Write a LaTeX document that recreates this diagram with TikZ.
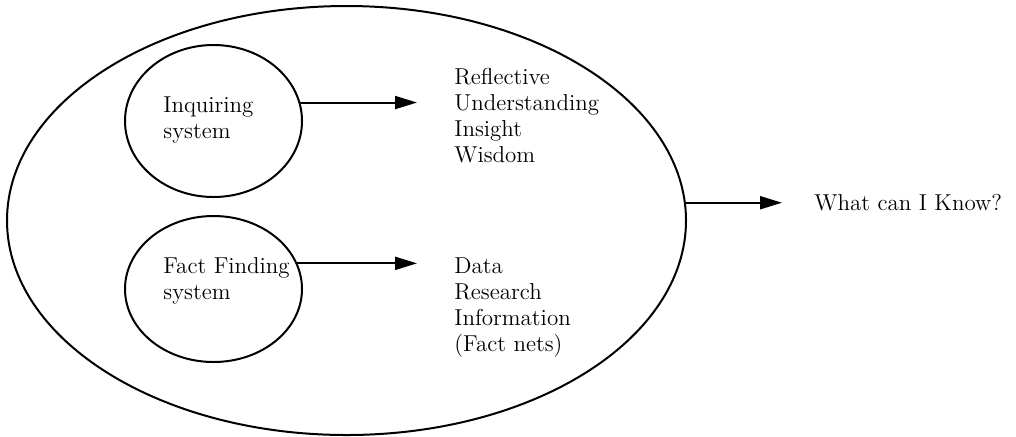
\documentclass[tikz,border=0pt]{standalone}
\usetikzlibrary{shapes.geometric,arrows.meta}
\tikzset{
  ring/.style={draw, ellipse, inner sep=0pt, line width=1pt},
  lbl/.style={anchor=base west, inner sep=0pt, font=\fontsize{11.5}{13}\selectfont},
  arr/.style={-{Triangle[length=11pt,width=6.5pt]}, line width=1pt}
}
\begin{document}
\begin{tikzpicture}[x=0.5pt,y=-0.5pt]
\useasboundingbox (0,0) rectangle (1016,436);
% outer ellipse and inner circles
\node[ring, minimum width=339.5pt, minimum height=214.5pt] (outer) at (346.5,220.5) {};
\node[ring, minimum width=88.5pt, minimum height=76pt] (c1) at (213.5,121) {};
\node[ring, minimum width=88.5pt, minimum height=73pt] (c2) at (213.5,289) {};
% texts
\node[lbl] (t1) at (163,112) {\begin{tabular}[t]{@{}l@{}}Inquiring\\system\end{tabular}};
\node[lbl] (t2) at (163,273) {\begin{tabular}[t]{@{}l@{}}Fact Finding\\system\end{tabular}};
\node[lbl] (r1) at (454,84) {\begin{tabular}[t]{@{}l@{}}Reflective\\Understanding\\Insight\\Wisdom\end{tabular}};
\node[lbl] (r2) at (454,273) {\begin{tabular}[t]{@{}l@{}}Data\\Research\\Information\\(Fact nets)\end{tabular}};
\node[lbl] (q) at (814,210) {What can I Know?};
% arrow ends
\coordinate (e1) at (417,0);
\coordinate (e3) at (782,0);
% connectors
\draw[arr] (c1.12) -- (c1.12 -| e1);
\draw[arr] (c2.17.5) -- (c2.17.5 -| e1);
\draw[arr] (outer.3.6) -- (outer.3.6 -| e3);
\end{tikzpicture}
\end{document}
